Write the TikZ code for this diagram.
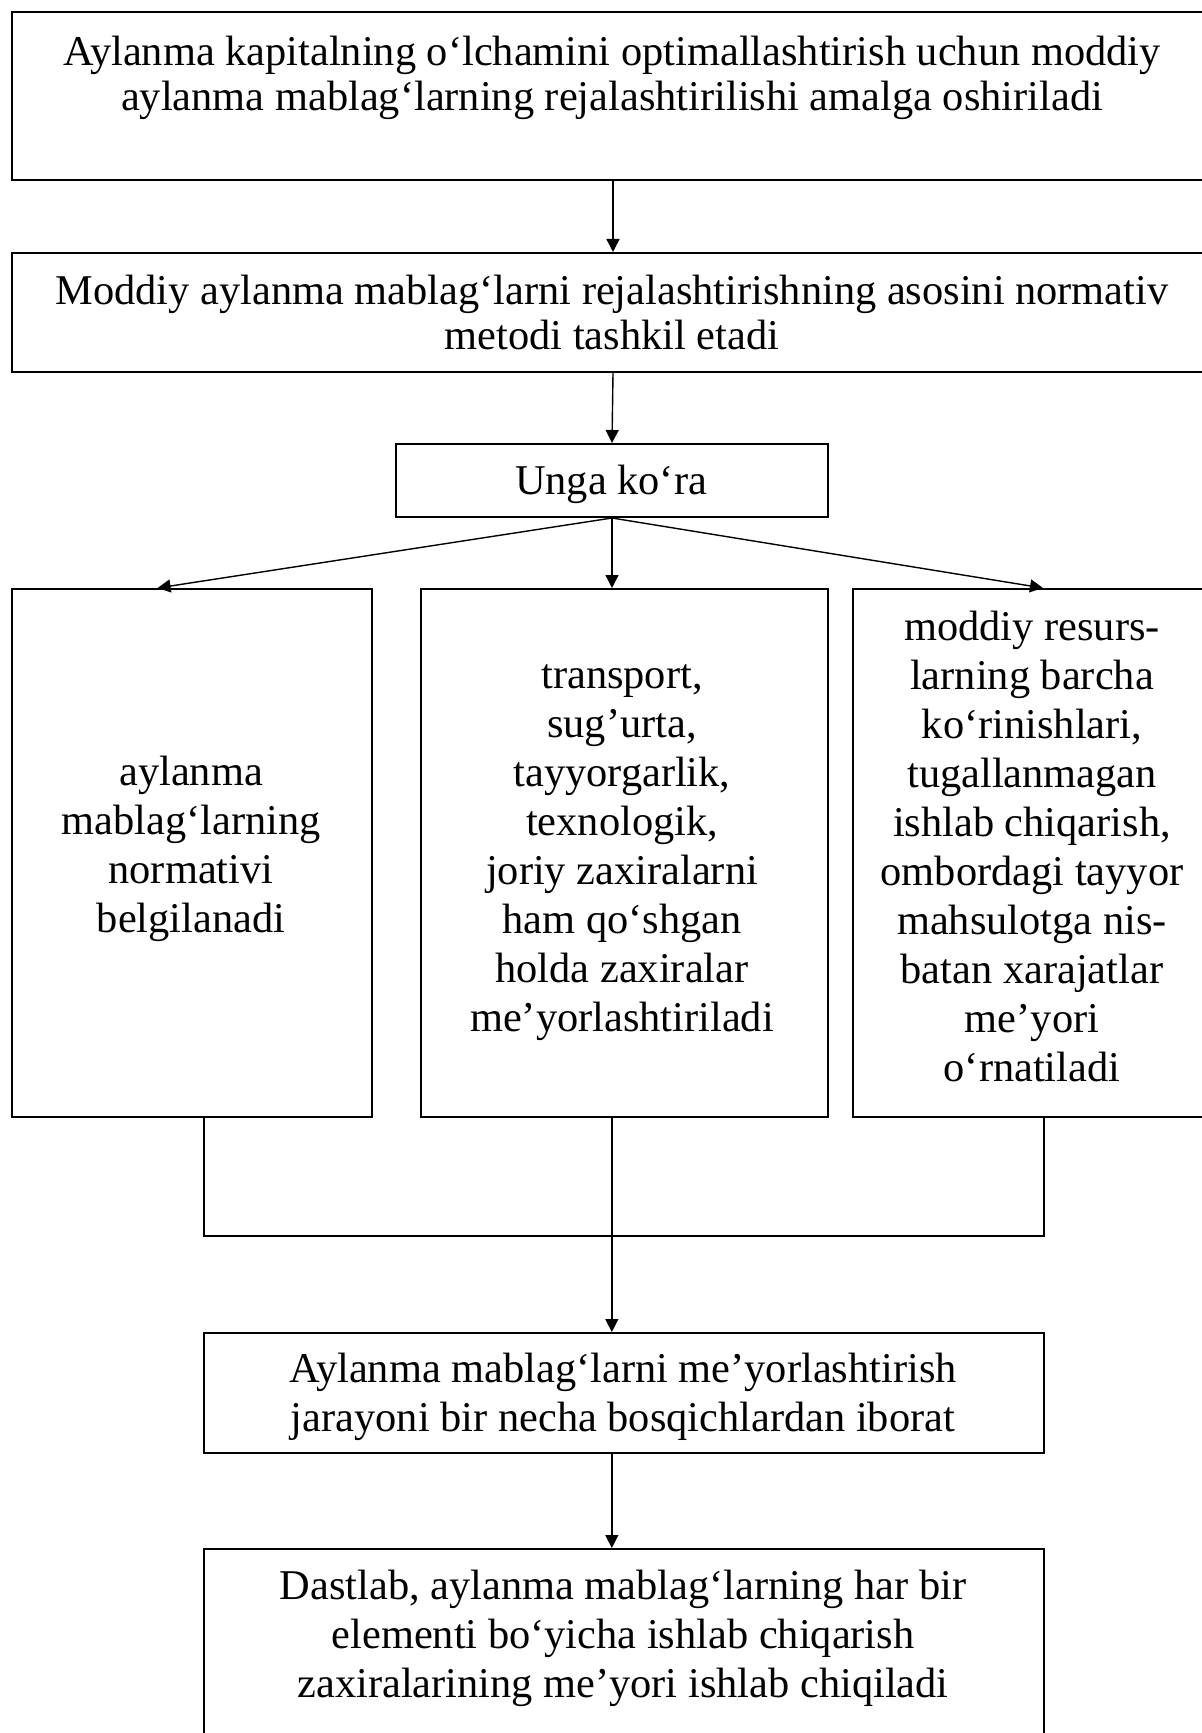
\documentclass[tikz,border=0pt]{standalone}
\usepackage{fontspec}
\setmainfont{Liberation Serif}
\usetikzlibrary{arrows.meta,calc}
\begin{document}
\begin{tikzpicture}[x=0.5pt,y=-0.5pt,
  box/.style={draw,line width=1pt,rectangle,inner sep=0pt,anchor=north west},
  txt/.style={align=center,inner sep=0pt,font=\fontsize{21.2}{22.5}\selectfont},
  txtb/.style={align=center,inner sep=0pt,font=\fontsize{21.2}{24.5}\selectfont},
  conn/.style={line width=0.7pt},
  arr/.style={line width=0.7pt,-{Triangle[length=6.5pt,width=6.5pt]}}]
\useasboundingbox (0,0) rectangle (1201,1733);
% boxes
\node[box,minimum width=601pt,minimum height=84pt] (b1) at (11,11) {};
\node[box,minimum width=601pt,minimum height=59.5pt] (b2) at (11,252) {};
\node[box,minimum width=216pt,minimum height=36.5pt] (u) at (395,443) {};
\node[box,minimum width=180pt,minimum height=264pt] (l) at (11,588) {};
\node[box,minimum width=203.5pt,minimum height=264pt] (m) at (420,588) {};
\node[box,minimum width=180.5pt,minimum height=264pt] (r) at (852,588) {};
\node[box,minimum width=420pt,minimum height=60pt] (b5) at (203,1332) {};
\node[box,minimum width=420pt,minimum height=106pt] (b6) at (203,1548) {};
% texts
\node[txt] (t1) at (612,78) {Aylanma kapitalning o‘lchamini optimallashtirish uchun moddiy\\aylanma mablag‘larning rejalashtirilishi amalga oshiriladi};
\node[txt] (t2) at (612,312) {Moddiy aylanma mablag‘larni rejalashtirishning asosini normativ\\metodi tashkil etadi};
\node[txt] (tu) at (611,484) {Unga ko‘ra};
\node[txtb] (tl) at (191,849) {aylanma\\mablag‘larning\\normativi\\belgilanadi};
\node[txtb] (tm) at (622,853) {transport,\\sug’urta,\\tayyorgarlik,\\texnologik,\\joriy zaxiralarni\\ham qo‘shgan\\holda zaxiralar\\me’yorlashtiriladi};
\node[txtb] (tr) at (1032,846) {moddiy resurs-\\larning barcha\\ko‘rinishlari,\\tugallanmagan\\ishlab chiqarish,\\ombordagi tayyor\\mahsulotga nis-\\batan xarajatlar\\me’yori\\o‘rnatiladi};
\node[txtb] (t5) at (623,1397) {Aylanma mablag‘larni me’yorlashtirish\\jarayoni bir necha bosqichlardan iborat};
\node[txtb] (t6) at (623,1638) {Dastlab, aylanma mablag‘larning har bir\\elementi bo‘yicha ishlab chiqarish\\zaxiralarining me’yori ishlab chiqiladi};
% connector points
\coordinate (lt) at ($(l.north west)!0.405!(l.north east)$);
\coordinate (rt) at ($(r.north west)!0.526!(r.north east)$);
\coordinate (lb) at ($(l.south west)!0.533!(l.south east)$);
\coordinate (mb) at ($(m.south west)!0.469!(m.south east)$);
\coordinate (rb) at ($(r.south west)!0.529!(r.south east)$);
\coordinate (j) at (611,1236);
% connectors
\draw[arr] (b1.south) -- (b2.north);
\draw[arr] (b2.south) -- (u.north);
\draw[arr] (u.south) -- (lt);
\draw[arr] (u.south) -- (u.south |- m.north);
\draw[arr] (u.south) -- (rt);
\draw[conn] (lb) -- (lb |- j) -- (rb |- j) -- (rb);
\draw[arr] (mb) -- (mb |- b5.north);
\draw[arr] (mb |- b5.south) -- (mb |- b6.north);
\end{tikzpicture}
\end{document}
